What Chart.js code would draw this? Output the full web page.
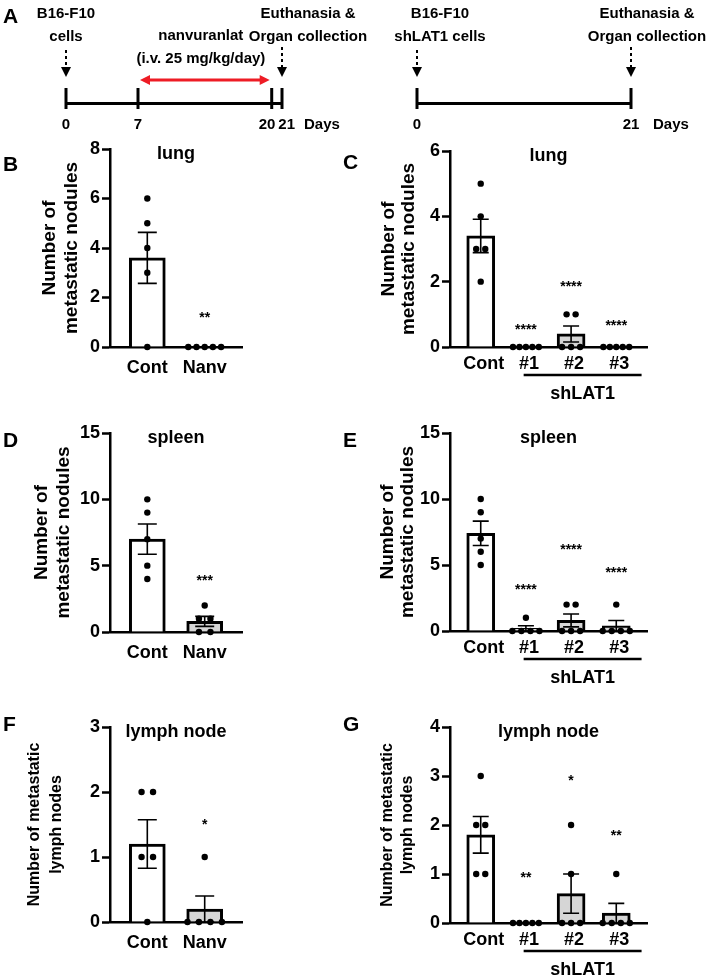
<!DOCTYPE html>
<html>
<head>
<meta charset="utf-8">
<script src="https://cdn.jsdelivr.net/npm/chart.js@4.4.0/dist/chart.umd.min.js"></script>
<style>
  body { margin: 0; background: #fff; }
  #fig { position: relative; width: 709px; height: 978px; overflow: hidden; }
  #fig canvas { position: absolute; }
</style>
</head>
<body>
<div id="fig">
  <canvas id="a1" style="left:0;top:0" width="400" height="140"></canvas>
  <canvas id="a2" style="left:360px;top:0" width="349" height="140"></canvas>
  <canvas id="pb" style="left:0;top:135px" width="340" height="270"></canvas>
  <canvas id="pc" style="left:340px;top:135px" width="369" height="270"></canvas>
  <canvas id="pd" style="left:0;top:405px" width="340" height="285"></canvas>
  <canvas id="pe" style="left:340px;top:405px" width="369" height="285"></canvas>
  <canvas id="pf" style="left:0;top:690px" width="340" height="288"></canvas>
  <canvas id="pg" style="left:340px;top:690px" width="369" height="288"></canvas>
</div>
<script>
// groups
const nanvGroups = ["Cont", "Nanv"];
const shGroups = ["Cont", "#1", "#2", "#3"];

// individual mice (dots), one array per group
const lungNanv = [[6, 5, 4, 3, 0], [0, 0, 0, 0, 0]];
const lungSh = [[5, 4, 3, 3, 2], [0, 0, 0, 0, 0], [1, 1, 0, 0, 0], [0, 0, 0, 0, 0]];
const spleenNanv = [[10, 9, 7, 5, 4], [2, 1, 1, 0, 0]];
const spleenSh = [[10, 9, 7, 6, 5], [1, 0, 0, 0, 0], [2, 2, 0, 0, 0], [2, 0, 0, 0, 0]];
const lymphNanv = [[2, 2, 1, 1, 0], [1, 0, 0, 0, 0]];
const lymphSh = [[3, 2, 2, 1, 1], [0, 0, 0, 0, 0], [2, 1, 0, 0, 0], [1, 0, 0, 0, 0]];

// y tick labels
const lungNanvTicks = [0, 2, 4, 6, 8];
const lungShTicks = [0, 2, 4, 6];
const spleenTicks = [0, 5, 10, 15];
const lymphNanvTicks = [0, 1, 2, 3];
const lymphShTicks = [0, 1, 2, 3, 4];

// significance marks and the value they sit at
const lungNanvStars = ["", "**"];
const lungNanvStarAt = [null, 1.33];
const lungShStars = ["", "****", "****", "****"];
const lungShStarAt = [null, 0.65, 1.96, 0.76];
const spleenNanvStars = ["", "***"];
const spleenNanvStarAt = [null, 4.15];
const spleenShStars = ["", "****", "****", "****"];
const spleenShStarAt = [null, 3.4, 6.46, 4.7];
const lymphNanvStars = ["", "*"];
const lymphNanvStarAt = [null, 1.55];
const lymphShStars = ["", "**", "*", "**"];
const lymphShStarAt = [null, 1.0, 2.98, 1.85];

// timelines (days)
const nanvDays = [0, 7, 20, 21];
const shDays = [0, 21];

const FONT = "'Liberation Sans', Arial, sans-serif";
Chart.defaults.font.family = FONT;
Chart.defaults.color = "#000";

function mean(a) { return a.reduce((s, v) => s + v, 0) / a.length; }
function sem(a) {
  const m = mean(a);
  const v = a.reduce((s, x) => s + (x - m) * (x - m), 0) / (a.length - 1);
  return Math.sqrt(v / a.length);
}

// ---------- panel A ----------
function line(ctx, x0, y0, x1, y1) {
  ctx.beginPath(); ctx.moveTo(x0, y0); ctx.lineTo(x1, y1); ctx.stroke();
}
function dashedArrow(ctx, x, y0, y1) {
  ctx.lineWidth = 2;
  ctx.setLineDash([3, 3]);
  line(ctx, x, y0, x, y1 - 8);
  ctx.setLineDash([]);
  ctx.beginPath();
  ctx.moveTo(x - 5, y1 - 10); ctx.lineTo(x + 5, y1 - 10); ctx.lineTo(x, y1);
  ctx.closePath(); ctx.fill();
}

function timeline(t) {
  return {
    id: "timeline",
    afterDraw(chart) {
      const ctx = chart.ctx, xs = chart.scales.x, base = chart.chartArea.bottom;
      ctx.save();
      ctx.strokeStyle = "#000"; ctx.fillStyle = "#000";
      ctx.lineWidth = 3;
      t.days.forEach(d => {
        const px = xs.getPixelForValue(d);
        line(ctx, px, base - 15, px, base + 6);
      });
      // day labels, pushed apart if they touch
      ctx.font = `bold 15px ${FONT}`;
      ctx.textAlign = "center"; ctx.textBaseline = "middle";
      const pos = t.days.map(d => xs.getPixelForValue(d));
      const w = t.days.map(d => ctx.measureText(String(d)).width);
      for (let i = 1; i < pos.length; i++) {
        const over = (pos[i - 1] + w[i - 1] / 2 + 3) - (pos[i] - w[i] / 2);
        if (over > 0) { pos[i - 1] -= over / 2; pos[i] += over / 2; }
      }
      t.days.forEach((d, i) => ctx.fillText(String(d), pos[i], base + 22));
      ctx.textAlign = "left";
      ctx.fillText("Days", xs.getPixelForValue(21) + 22, base + 22);
      // events
      ctx.textAlign = "center";
      t.events.forEach(e => {
        const px = xs.getPixelForValue(e.day);
        e.lines.forEach((s, k) => ctx.fillText(s, px + e.dx, 14 + k * 23));
        dashedArrow(ctx, px, e.arrowTop, base - 26);
      });
      if (t.treat) {
        const x0 = xs.getPixelForValue(t.treat.from), x1 = xs.getPixelForValue(t.treat.to);
        const y = base - 23;
        t.treat.lines.forEach((s, k) => ctx.fillText(s, (x0 + x1) / 2 - 4, 36 + k * 23));
        ctx.strokeStyle = "#ee1c25"; ctx.fillStyle = "#ee1c25"; ctx.lineWidth = 3;
        line(ctx, x0 + 8, y, x1 - 8, y);
        ctx.beginPath();
        ctx.moveTo(x0 + 2, y); ctx.lineTo(x0 + 12, y - 5); ctx.lineTo(x0 + 12, y + 5); ctx.closePath(); ctx.fill();
        ctx.beginPath();
        ctx.moveTo(x1 - 2, y); ctx.lineTo(x1 - 12, y - 5); ctx.lineTo(x1 - 12, y + 5); ctx.closePath(); ctx.fill();
      }
      if (t.letter) {
        ctx.fillStyle = "#000";
        ctx.font = `bold 21px ${FONT}`; ctx.textAlign = "left";
        ctx.fillText(t.letter, 3, 17);
      }
      ctx.restore();
    }
  };
}

function timelineChart(id, t, padLeft, padRight) {
  new Chart(document.getElementById(id), {
    type: "scatter",
    data: { datasets: [] },
    options: {
      responsive: false, animation: false, devicePixelRatio: 1,
      layout: { padding: { left: padLeft, right: padRight, top: 20, bottom: 0 } },
      plugins: { legend: { display: false }, tooltip: { enabled: false } },
      scales: {
        x: {
          type: "linear", min: 0, max: 21,
          afterFit: s => { s.height = 37; },
          grid: { display: false, drawTicks: false },
          ticks: { display: false },
          border: { display: true, color: "#000", width: 3 }
        },
        y: { display: false, min: 0, max: 1 }
      }
    },
    plugins: [timeline(t)]
  });
}

timelineChart("a1", {
  letter: "A",
  days: nanvDays,
  events: [
    { day: 0, lines: ["B16-F10", "cells"], dx: 0, arrowTop: 50 },
    { day: 21, lines: ["Euthanasia &", "Organ collection"], dx: 26, arrowTop: 47 }
  ],
  treat: { from: 7, to: 20, lines: ["nanvuranlat", "(i.v. 25 mg/kg/day)"] }
}, 66, 118);

timelineChart("a2", {
  days: shDays,
  events: [
    { day: 0, lines: ["B16-F10", "shLAT1 cells"], dx: 23, arrowTop: 50 },
    { day: 21, lines: ["Euthanasia &", "Organ collection"], dx: 16, arrowTop: 47 }
  ]
}, 57, 78);

// ---------- bar panels ----------
function decor(p, means, sems) {
  return {
    id: "decor",
    afterDatasetDraw(chart, args) {
      if (args.index !== 0) return;
      const { ctx, scales: { x, y } } = chart;
      ctx.save();
      ctx.strokeStyle = "#000"; ctx.lineWidth = 1.6;
      means.forEach((m, i) => {
        if (!sems[i]) return;
        const px = x.getPixelForValue(i);
        const top = y.getPixelForValue(m + sems[i]);
        const bot = y.getPixelForValue(m - sems[i]);
        ctx.beginPath();
        ctx.moveTo(px, top); ctx.lineTo(px, bot);
        ctx.moveTo(px - p.cap, top); ctx.lineTo(px + p.cap, top);
        ctx.moveTo(px - p.cap, bot); ctx.lineTo(px + p.cap, bot);
        ctx.stroke();
      });
      ctx.restore();
    },
    afterDraw(chart) {
      const { ctx, chartArea: a, scales: { x, y } } = chart;
      ctx.save();
      ctx.fillStyle = "#000"; ctx.strokeStyle = "#000";
      ctx.textAlign = "center"; ctx.textBaseline = "middle";
      ctx.font = `bold 18px ${FONT}`;
      ctx.fillText(p.title, (a.left + a.right) / 2, a.top + 5);
      ctx.font = `bold 21px ${FONT}`; ctx.textAlign = "left";
      ctx.fillText(p.letter, 3, p.letterY);
      ctx.font = `bold 14px ${FONT}`; ctx.textAlign = "center"; ctx.textBaseline = "alphabetic";
      p.stars.forEach((s, i) => {
        if (!s) return;
        ctx.fillText(s, x.getPixelForValue(i), y.getPixelForValue(p.starAt[i]) + 8);
      });
      if (p.group) {
        const gx0 = x.getPixelForValue(p.group.from), gx1 = x.getPixelForValue(p.group.to);
        ctx.lineWidth = 2.5;
        line(ctx, gx0, a.bottom + 28, gx1, a.bottom + 28);
        ctx.font = `bold 18px ${FONT}`; ctx.textBaseline = "middle";
        ctx.fillText(p.group.text, (gx0 + gx1) / 2, a.bottom + 47);
      }
      ctx.restore();
    }
  };
}

function barPanel(id, p) {
  const means = p.values.map(mean);
  const sems = p.values.map(sem);
  const dots = [];
  p.values.forEach((vals, i) => {
    const count = {}, seen = {};
    vals.forEach(v => { count[v] = (count[v] || 0) + 1; });
    vals.forEach(v => {
      const k = count[v];
      const j = seen[v] = (seen[v] === undefined ? 0 : seen[v] + 1);
      const step = k >= 5 ? 0.143 : 0.2;
      dots.push({ x: i + (j - (k - 1) / 2) * step, y: v });
    });
  });
  const n = p.groups.length;
  const left = p.side === "left";
  const lh = left ? 22 : 20;
  new Chart(document.getElementById(id), {
    type: "bar",
    data: {
      datasets: [
        {
          type: "bar",
          data: means.map((m, i) => ({ x: i, y: m })),
          backgroundColor: means.map((m, i) => (i === 0 ? "#ffffff" : "#d6d6d6")),
          borderColor: "#000",
          borderWidth: 3,
          borderSkipped: "start",
          barThickness: left ? 36 : 28,
          order: 2
        },
        {
          type: "scatter",
          data: dots,
          pointRadius: 3.2,
          pointBackgroundColor: "#000",
          pointBorderWidth: 0,
          clip: false,
          order: 1
        }
      ]
    },
    options: {
      responsive: false, animation: false, devicePixelRatio: 1,
      layout: { padding: { top: p.padTop, right: left ? 98 : 62, left: 0, bottom: 0 } },
      plugins: { legend: { display: false }, tooltip: { enabled: false } },
      scales: {
        x: {
          type: "linear",
          offset: false,
          min: left ? -0.65 : -0.68,
          max: n - 1 + (left ? 0.65 : 0.68),
          afterBuildTicks: s => { s.ticks = p.groups.map((g, i) => ({ value: i })); },
          afterFit: s => { s.height = p.xHeight; },
          grid: { display: false, drawTicks: false, offset: false },
          border: { display: true, color: "#000", width: 2.5 },
          ticks: {
            callback: v => p.groups[v],
            font: { size: 18, weight: "bold" },
            color: "#000",
            padding: left ? 10 : 6,
            labelOffset: left ? 0 : 3,
            maxRotation: 0, autoSkip: false
          }
        },
        y: {
          min: p.ticks[0], max: p.ticks[p.ticks.length - 1],
          afterBuildTicks: s => { s.ticks = p.ticks.map(v => ({ value: v })); },
          afterFit: s => { s.width = 110; },
          grid: { drawOnChartArea: false, drawTicks: true, tickLength: 8, tickWidth: 2.5, tickColor: "#000" },
          border: { display: true, color: "#000", width: 2.5 },
          ticks: { font: { size: 18, weight: "bold" }, color: "#000", padding: 2 },
          title: {
            display: true,
            text: p.yTitle,
            color: "#000",
            font: { size: p.titleSize, weight: "bold", lineHeight: lh / p.titleSize },
            padding: { top: p.titlePad, bottom: 0 }
          }
        }
      }
    },
    plugins: [decor(p, means, sems)]
  });
}

const nodules = ["Number of", "metastatic nodules"];
const nodes = ["Number of metastatic", "lymph nodes"];
const shGroupLine = { from: 0.95, to: 3.56, text: "shLAT1" };

barPanel("pb", { side: "left", groups: nanvGroups, values: lungNanv, ticks: lungNanvTicks,
  title: "lung", letter: "B", letterY: 30, yTitle: nodules, titleSize: 19, titlePad: 39,
  stars: lungNanvStars, starAt: lungNanvStarAt, padTop: 14, xHeight: 58, cap: 9.5 });
barPanel("pc", { side: "right", groups: shGroups, values: lungSh, ticks: lungShTicks,
  title: "lung", letter: "C", letterY: 28, yTitle: nodules, titleSize: 19, titlePad: 39,
  stars: lungShStars, starAt: lungShStarAt, padTop: 16, xHeight: 58, cap: 8, group: shGroupLine });
barPanel("pd", { side: "left", groups: nanvGroups, values: spleenNanv, ticks: spleenTicks,
  title: "spleen", letter: "D", letterY: 36, yTitle: nodules, titleSize: 19, titlePad: 31,
  stars: spleenNanvStars, starAt: spleenNanvStarAt, padTop: 28, xHeight: 58, cap: 9.5 });
barPanel("pe", { side: "right", groups: shGroups, values: spleenSh, ticks: spleenTicks,
  title: "spleen", letter: "E", letterY: 36, yTitle: nodules, titleSize: 19, titlePad: 38,
  stars: spleenShStars, starAt: spleenShStarAt, padTop: 28, xHeight: 59, cap: 8, group: shGroupLine });
barPanel("pf", { side: "left", groups: nanvGroups, values: lymphNanv, ticks: lymphNanvTicks,
  title: "lymph node", letter: "F", letterY: 35, yTitle: nodes, titleSize: 16, titlePad: 24,
  stars: lymphNanvStars, starAt: lymphNanvStarAt, padTop: 37, xHeight: 56, cap: 9.5 });
barPanel("pg", { side: "right", groups: shGroups, values: lymphSh, ticks: lymphShTicks,
  title: "lymph node", letter: "G", letterY: 35, yTitle: nodes, titleSize: 16, titlePad: 38,
  stars: lymphShStars, starAt: lymphShStarAt, padTop: 37, xHeight: 55, cap: 8, group: shGroupLine });
</script>
</body>
</html>
